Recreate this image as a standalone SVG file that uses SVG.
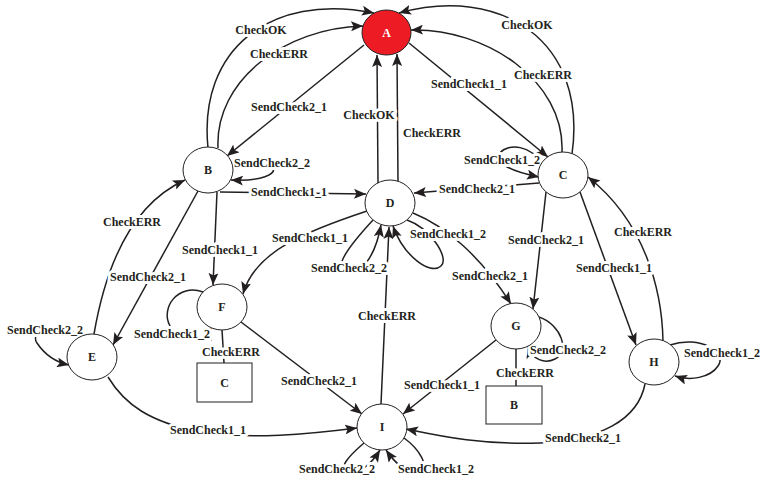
<svg xmlns="http://www.w3.org/2000/svg" width="763" height="483" viewBox="0 0 763 483">
<style>
.e{fill:none;stroke:#231f20;stroke-width:1.5}
.a{marker-end:url(#arr)}
.n{fill:#fff;stroke:#231f20;stroke-width:1}
.t{font-family:"Liberation Serif",serif;font-weight:bold;font-size:12px;fill:#231f20;text-anchor:middle}
.l{font-family:"Liberation Serif",serif;font-weight:bold;font-size:12px;fill:#231f20;text-anchor:middle;stroke:#fff;stroke-width:6;paint-order:stroke;stroke-linejoin:round}
</style>
<defs>
<marker id="arr" markerUnits="userSpaceOnUse" markerWidth="12" markerHeight="10" viewBox="0 0 12 10" refX="12" refY="5" orient="auto">
<path d="M0,0 L12,5 L0,10 L2.5,5 z" fill="#231f20"/>
</marker>
</defs>
<rect width="763" height="483" fill="#fff"/>
<g id="connectors">
<path class="e a" d="M208,148 C198,50 270,-8 374,13"/>
<path class="e a" d="M218,148 C215,80 285,28 363,26"/>
<path class="e a" d="M364,45 L227,156"/>
<path class="e a" d="M409,43 L548,157"/>
<path class="e a" d="M572,154 C588,40 500,-15 399,13"/>
<path class="e a" d="M562,152 C565,80 485,28 411,30"/>
<path class="e a" d="M378,183 L377,55"/>
<path class="e a" d="M398,181 L397,54"/>
<path class="e a" d="M232,163 C280,150 295,183 231,180"/>
<path class="e a" d="M220,192 L366,194"/>
<path class="e a" d="M541,164 C532,145 508,143 500,153 C494,163 510,171 539,177"/>
<path class="e a" d="M539,183 L414,193"/>
<path class="e a" d="M217,192 L213,285"/>
<path class="e a" d="M198,191 L113,345"/>
<path class="e a" d="M94,334 C105,270 130,205 185,180"/>
<path class="e a" d="M80,337 C60,320 28,330 37,343 C45,355 55,362 69,365"/>
<path class="e a" d="M367,211 C310,230 255,250 243,294"/>
<path class="e a" d="M373,220 C350,245 332,268 346,272 C360,276 375,258 381,225"/>
<path class="e a" d="M407,220 C430,228 450,258 441,266 C430,276 403,255 393,226"/>
<path class="e a" d="M413,213 C445,226 480,255 511,304"/>
<path class="e a" d="M546,192 L533,309"/>
<path class="e a" d="M580,192 L636,345"/>
<path class="e a" d="M663,341 C662,290 645,222 588,177"/>
<path class="e a" d="M670,345 C700,335 728,352 718,366 C710,378 690,381 675,376"/>
<path class="e a" d="M539,317 C562,325 570,352 555,359 C545,364 532,360 528,346"/>
<path class="e" d="M516,349 L516,386"/>
<path class="e a" d="M203,292 C178,283 160,308 170,326 C178,342 205,346 211,328"/>
<path class="e" d="M222,330 L224,363"/>
<path class="e a" d="M241,322 L362,414"/>
<path class="e a" d="M381,404 L389,227"/>
<path class="e a" d="M496,340 L403,414"/>
<path class="e a" d="M108,377 C125,405 150,422 200,432 C250,440 310,434 357,428"/>
<path class="e a" d="M645,384 C638,420 600,440 540,443 C480,445 440,436 406,429"/>
<path class="e a" d="M364,443 C350,455 335,470 350,472 C360,474 372,463 380,450"/>
<path class="e a" d="M404,438 C418,448 432,468 418,471 C405,473 395,463 386,450"/>
<text class="l" x="261" y="34">CheckOK</text>
<text class="l" x="279" y="58">CheckERR</text>
<text class="l" x="289" y="111">SendCheck2_1</text>
<text class="l" x="369" y="119">CheckOK</text>
<text class="l" x="432" y="137">CheckERR</text>
<text class="l" x="469" y="88">SendCheck1_1</text>
<text class="l" x="527" y="29">CheckOK</text>
<text class="l" x="543" y="79">CheckERR</text>
<text class="l" x="272" y="167">SendCheck2_2</text>
<text class="l" x="289" y="196">SendCheck1_1</text>
<text class="l" x="502" y="164">SendCheck1_2</text>
<text class="l" x="477" y="193">SendCheck2_1</text>
<text class="l" x="132" y="226">CheckERR</text>
<text class="l" x="148" y="281">SendCheck2_1</text>
<text class="l" x="220" y="254">SendCheck1_1</text>
<text class="l" x="310" y="242">SendCheck1_1</text>
<text class="l" x="349" y="272">SendCheck2_2</text>
<text class="l" x="448" y="238">SendCheck1_2</text>
<text class="l" x="490" y="280">SendCheck2_1</text>
<text class="l" x="546" y="244">SendCheck2_1</text>
<text class="l" x="643" y="236">CheckERR</text>
<text class="l" x="614" y="272">SendCheck1_1</text>
<text class="l" x="45" y="334">SendCheck2_2</text>
<text class="l" x="172" y="338">SendCheck1_2</text>
<text class="l" x="231" y="356">CheckERR</text>
<text class="l" x="568" y="354">SendCheck2_2</text>
<text class="l" x="525" y="377">CheckERR</text>
<text class="l" x="722" y="357">SendCheck1_2</text>
<text class="l" x="387" y="320">CheckERR</text>
<text class="l" x="319" y="385">SendCheck2_1</text>
<text class="l" x="442" y="389">SendCheck1_1</text>
<text class="l" x="208" y="434">SendCheck1_1</text>
<text class="l" x="583" y="442">SendCheck2_1</text>
<text class="l" x="337" y="473">SendCheck2_2</text>
<text class="l" x="436" y="473">SendCheck1_2</text>
</g>
<g id="node-A"><ellipse cx="386.5" cy="32.5" rx="24.5" ry="22.5" fill="#ed1c24" stroke="#231f20" stroke-width="1"/><text class="t" x="386.5" y="37" style="fill:#fff">A</text></g>
<g id="node-B"><ellipse class="n" cx="208" cy="170" rx="25" ry="23"/><text class="t" x="208" y="174">B</text></g>
<g id="node-C"><ellipse class="n" cx="563" cy="175" rx="25" ry="23"/><text class="t" x="563" y="179">C</text></g>
<g id="node-D"><ellipse class="n" cx="390" cy="203" rx="25" ry="23"/><text class="t" x="390" y="207">D</text></g>
<g id="node-E"><ellipse class="n" cx="92" cy="357" rx="25" ry="23"/><text class="t" x="92" y="361">E</text></g>
<g id="node-F"><ellipse class="n" cx="222" cy="307" rx="25" ry="23"/><text class="t" x="222" y="311">F</text></g>
<g id="node-G"><ellipse class="n" cx="516" cy="326" rx="25" ry="23"/><text class="t" x="516" y="330">G</text></g>
<g id="node-H"><ellipse class="n" cx="654" cy="362" rx="25" ry="23"/><text class="t" x="654" y="366">H</text></g>
<g id="node-I"><ellipse class="n" cx="382" cy="427" rx="25" ry="23"/><text class="t" x="382" y="431">I</text></g>
<g id="box-C"><rect class="n" x="197" y="363" width="55" height="39"/><text class="t" x="224.5" y="387">C</text></g>
<g id="box-B"><rect class="n" x="486" y="386" width="56" height="38"/><text class="t" x="514" y="409">B</text></g>
</svg>
